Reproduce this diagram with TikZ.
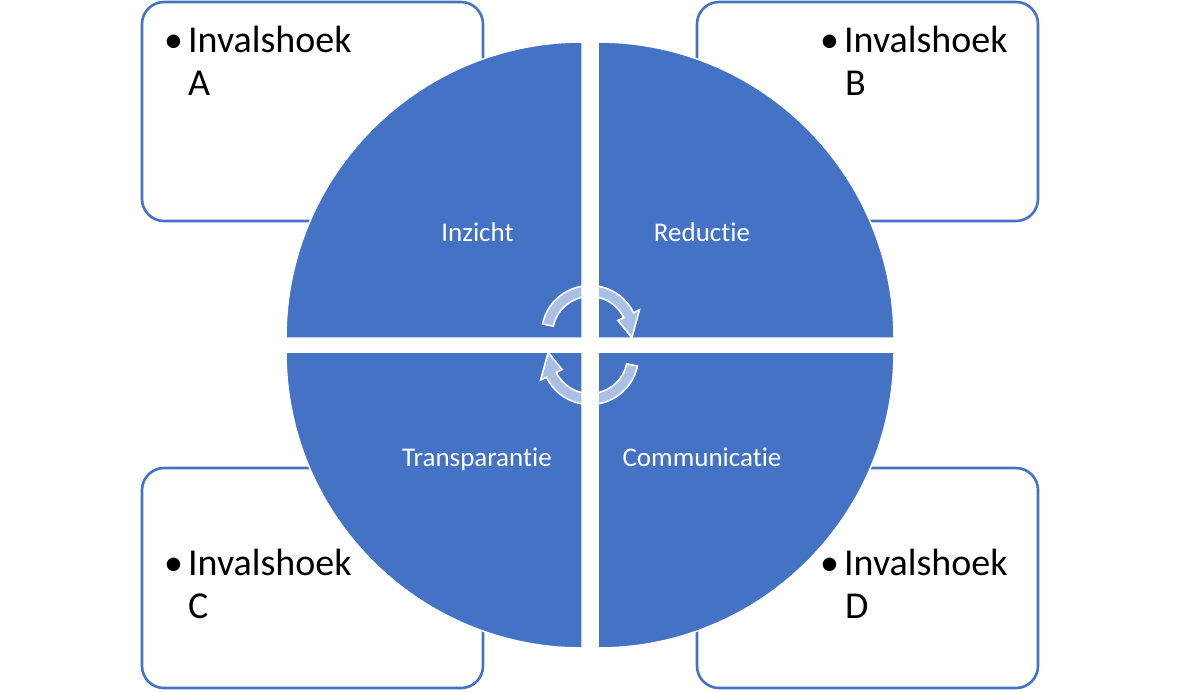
\documentclass[tikz,border=0pt]{standalone}
\usepackage{fontspec}
\setmainfont{Carlito}[Ligatures=NoCommon]
\definecolor{accent}{HTML}{4472C4}
\begin{document}
\begin{tikzpicture}[x=1pt,y=1pt,
  sidebox/.style={draw=accent, line width=2.6pt, rounded corners=22pt, fill=white},
  bullettext/.style={anchor=base west, inner sep=0pt, font=\fontsize{38}{43}\selectfont, text=black, align=left},
  quad/.style={fill=accent, draw=white, line width=1.5pt},
  qlabel/.style={anchor=base, inner sep=0pt, text=white, font=\fontsize{27}{32}\selectfont},
  cyclearrow/.style={fill=white, fill opacity=0.55, draw=white, line width=1.6pt, draw opacity=1, line join=miter}
]
\useasboundingbox (0,0) rectangle (1180,-691);
% side boxes
\draw[sidebox] (142,-2) rectangle (483,-221) coordinate (boxA);
\draw[sidebox] (697,-2) rectangle (1038,-221) coordinate (boxB);
\draw[sidebox] (142,-468) rectangle (483,-688) coordinate (boxC);
\draw[sidebox] (697,-468) rectangle (1038,-688) coordinate (boxD);
% box texts
\node[bullettext] (tA) at (164,-52) {•\hspace{5pt}Invalshoek};
\node[bullettext] (tA2) at (188,-95) {A};
\node[bullettext] (tB) at (820,-52) {•\hspace{5pt}Invalshoek};
\node[bullettext] (tB2) at (845,-95) {B};
\node[bullettext] (tC) at (164,-575) {•\hspace{5pt}Invalshoek};
\node[bullettext] (tC2) at (188,-618) {C};
\node[bullettext] (tD) at (820,-575) {•\hspace{5pt}Invalshoek};
\node[bullettext] (tD2) at (845,-618) {D};
% quadrants
\draw[quad] (582,-338) -- (582,-42) arc[start angle=90, end angle=180, radius=296] -- cycle;
\draw[quad] (598,-338) -- (894,-338) arc[start angle=0, end angle=90, radius=296] -- cycle;
\draw[quad] (582,-352) -- (286,-352) arc[start angle=180, end angle=270, radius=296] -- cycle;
\draw[quad] (598,-352) -- (598,-648) arc[start angle=270, end angle=360, radius=296] -- cycle;
% labels
\node[qlabel] (l1) at (477.5,-241) {Inzicht};
\node[qlabel] (l2) at (702,-241) {Reductie};
\node[qlabel] (l3) at (477,-466) {Transparantie};
\node[qlabel] (l4) at (702,-466) {Communicatie};
% cycle arrows
\coordinate (ac) at (590,-334);
\path[cyclearrow] ([shift={(ac)}]168:48.5) arc[start angle=168, end angle=26, radius=48.5]
  -- ([shift={(ac)}]26:55) -- ([shift={(ac)}]-5:42) -- ([shift={(ac)}]26:31)
  -- ([shift={(ac)}]26:37.5) arc[start angle=26, end angle=168, radius=37.5] -- cycle;
\begin{scope}[rotate around={180:(590,-345)}]
\path[cyclearrow] ([shift={(ac)}]168:48.5) arc[start angle=168, end angle=26, radius=48.5]
  -- ([shift={(ac)}]26:55) -- ([shift={(ac)}]-5:42) -- ([shift={(ac)}]26:31)
  -- ([shift={(ac)}]26:37.5) arc[start angle=26, end angle=168, radius=37.5] -- cycle;
\end{scope}
\end{tikzpicture}
\end{document}
